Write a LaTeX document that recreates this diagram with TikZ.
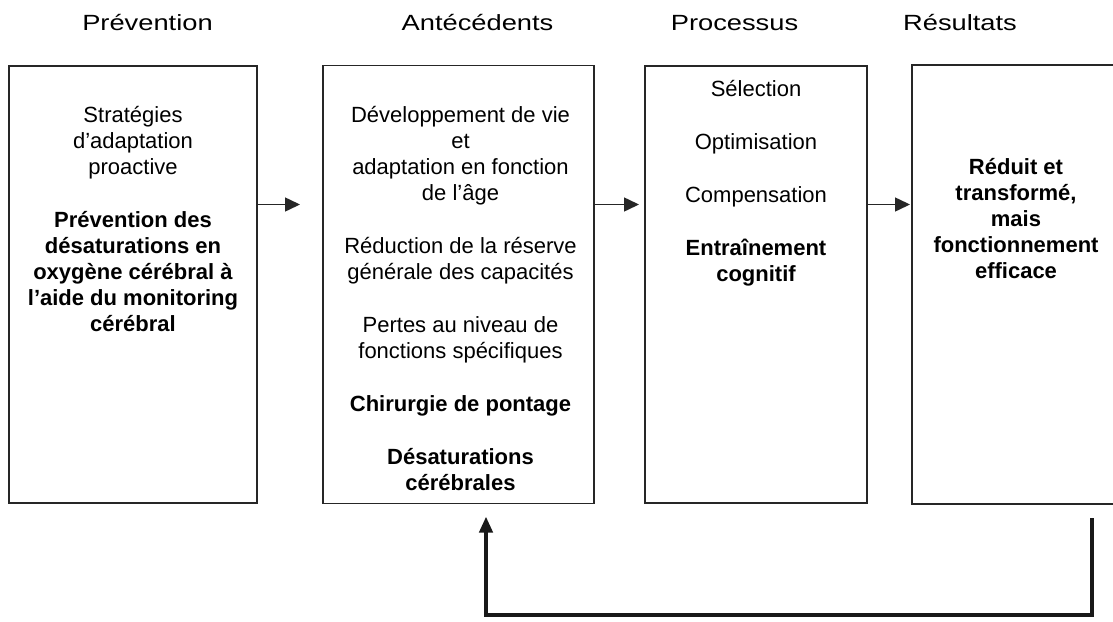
\documentclass[tikz,border=0pt]{standalone}
\usepackage{fontspec}
\setmainfont{Liberation Sans}
\newfontfamily\headfont[FakeStretch=1.24]{Liberation Sans}
\usetikzlibrary{positioning, arrows.meta}

\begin{document}
\begin{tikzpicture}[
        x=1pt, y=-1pt,
        % Boxes: plain frames, text is placed separately
        box/.style={
                draw=black!85, line width=1.5pt,
                inner sep=0pt, outer sep=0pt
            },
        txt/.style={
                align=center, inner sep=0pt,
                font=\fontsize{22}{26}\selectfont
            },
        headtxt/.style={
                anchor=base, inner sep=0pt,
                font=\fontsize{22}{26}\selectfont\headfont
            },
        % Arrow styles
        arr/.style={-{Triangle[length=15pt,width=14pt]}, line width=1.5pt, draw=black!85},
        fbarr/.style={-{Triangle[length=16pt,width=13pt]}, line width=4pt, draw=black!90}
    ]
    \useasboundingbox (0,0) rectangle (1113,621);

    %% ---- Column headings ----
    \node[headtxt] (hprev) at (147.5,30) {Prévention};
    \node[headtxt] (hante) at (477.5,30) {Antécédents};
    \node[headtxt] (hproc) at (734.5,30) {Processus};
    \node[headtxt] (hresu) at (960,30) {Résultats};

    %% ---- Boxes ----
    \node[box, minimum width=248pt, minimum height=437pt] (prev) at (133,284.5) {};
    \node[box, minimum width=271pt, minimum height=438pt, right=66pt of prev] (ante) {};
    \node[box, minimum width=222pt, minimum height=437pt, right=51pt of ante] (proc) {};
    \node[box, minimum width=208pt, minimum height=439pt, right=45pt of proc] (resu) {};

    %% ---- Box texts ----
    \node[txt, below=39.7pt of prev.north] (prevtxt) {%
        Stratégies\\ d’adaptation\\ proactive\\[27pt]
        \textbf{Prévention des}\\ \textbf{désaturations en}\\
        \textbf{oxygène cérébral à}\\ \textbf{l’aide du monitoring}\\
        \textbf{cérébral}};
    \node[txt, below=40.7pt of ante.north, xshift=2pt] (antetxt) {%
        Développement de vie\\ et\\ adaptation en fonction\\ de l’âge\\[27pt]
        Réduction de la réserve\\ générale des capacités\\[27pt]
        Pertes au niveau de\\ fonctions spécifiques\\[27pt]
        \textbf{Chirurgie de pontage}\\[27pt]
        \textbf{Désaturations}\\ \textbf{cérébrales}};
    \node[txt, below=13.7pt of proc.north] (proctxt) {%
        Sélection\\[27pt] Optimisation\\[27pt] Compensation\\[27pt]
        \textbf{Entraînement}\\ \textbf{cognitif}};
    \node[txt, below=92.7pt of resu.north] (resutxt) {%
        \textbf{Réduit et}\\ \textbf{transformé,}\\ \textbf{mais}\\
        \textbf{fonctionnement}\\ \textbf{efficace}};

    %% ---- Forward arrows ----
    \coordinate (flow) at (0,204.5);
    \draw[arr] (prev.east |- flow) -- ([xshift=-23pt]ante.west |- flow);
    \draw[arr] (ante.east |- flow) -- ([xshift=-6pt]proc.west |- flow);
    \draw[arr] (proc.east |- flow) -- ([xshift=-2pt]resu.west |- flow);

    %% ---- Feedback loop (results back to antecedents) ----
    \coordinate (fbline) at (0,615);
    \draw[fbarr] ([xshift=-28pt,yshift=-14pt]resu.south east)
    |- ([xshift=27.5pt]ante.south |- fbline)
    -- ([xshift=27.5pt,yshift=-13pt]ante.south);

\end{tikzpicture}
\end{document}
